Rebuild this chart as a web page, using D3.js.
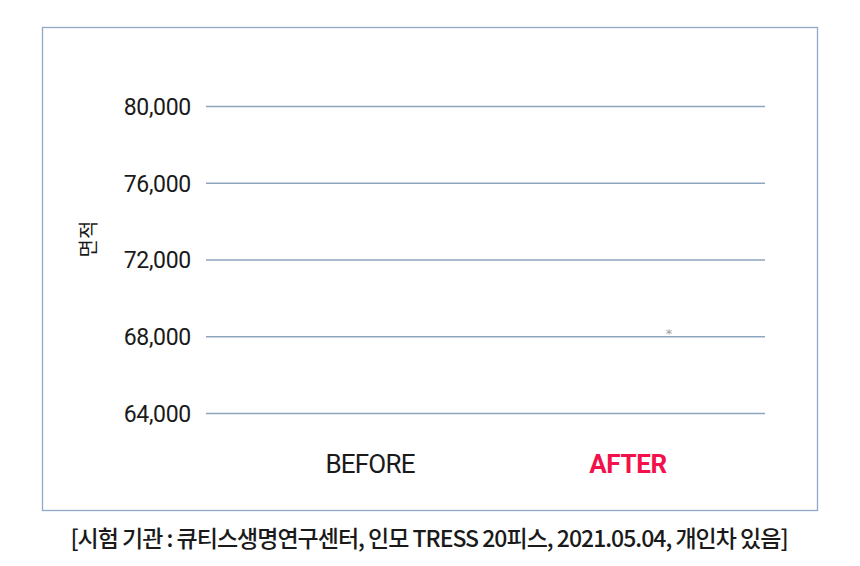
<!DOCTYPE html>
<html>
<head>
<meta charset="utf-8">
<script src="https://cdn.jsdelivr.net/npm/d3@7"></script>
<style>
  html, body { margin: 0; padding: 0; background: #fff; }
  svg { display: block; }
</style>
</head>
<body>
<svg id="chart"></svg>
<script>
// chart values
const categories = ['BEFORE', 'AFTER'];
const yTicks = [64000, 68000, 72000, 76000, 80000];
const yDomain = [62600, 81400];
const markers = [{ category: 'AFTER', value: 68200, text: '*' }];
const yTitle = '면적';
const footnote = '[시험 기관 : 큐티스생명연구센터, 인모 TRESS 20피스, 2021.05.04, 개인차 있음]';

const width = 860;
const height = 566;
const svg = d3.select('#chart').attr('width', width).attr('height', height);

// outer frame
svg.append('rect')
  .attr('x', 42.5).attr('y', 27.5)
  .attr('width', 775).attr('height', 483)
  .attr('fill', 'none')
  .attr('stroke', '#8fa9c6')
  .attr('stroke-width', 1.3);

const plot = { left: 206, right: 765 };

const y = d3.scaleLinear().domain(yDomain).range([
  // 80,000 lands at 106 and 64,000 at 413
  413 + (64000 - yDomain[0]) * (307 / 16000),
  106 - (yDomain[1] - 80000) * (307 / 16000)
]);

const x = d3.scaleBand().domain(categories).range([241, 757]);

// gridlines + tick labels
const yAxis = d3.axisLeft(y)
  .tickValues(yTicks)
  .tickSize(-(plot.right - plot.left))
  .tickPadding(15)
  .tickFormat(d3.format(','));

const gy = svg.append('g')
  .attr('transform', `translate(${plot.left},0)`)
  .call(yAxis);
gy.select('.domain').remove();
gy.selectAll('.tick line')
  .attr('stroke', '#8ea5c0')
  .attr('stroke-width', 1.3);
gy.selectAll('.tick text')
  .attr('fill', '#1a1a1a')
  .attr('dy', '0.36em')
  .style('font-family', 'Roboto, "Noto Sans", sans-serif')
  .style('font-size', '23px')
  .style('letter-spacing', '-0.3px');

// category labels
svg.append('g').selectAll('text')
  .data(categories)
  .join('text')
  .attr('x', d => x(d) + x.bandwidth() / 2)
  .attr('y', 473)
  .attr('text-anchor', 'middle')
  .attr('fill', d => d === 'AFTER' ? '#f2114b' : '#1a1a1a')
  .style('font-family', 'Roboto, "Noto Sans", sans-serif')
  .style('font-size', '26px')
  .style('font-weight', d => d === 'AFTER' ? 700 : 400)
  .style('letter-spacing', d => d === 'AFTER' ? '-0.4px' : '-0.8px')
  .text(d => d);

// significance marker
svg.selectAll('.marker')
  .data(markers)
  .join('text')
  .attr('class', 'marker')
  .attr('x', d => x(d.category) + x.bandwidth() / 2 + 41)
  .attr('y', d => y(d.value) + 6)
  .attr('text-anchor', 'middle')
  .attr('fill', '#9c9c9c')
  .style('font-family', '"DejaVu Sans", sans-serif')
  .style('font-size', '13px')
  .text(d => d.text);

// y axis title
svg.append('text')
  .attr('transform', 'translate(96,239) rotate(-90)')
  .attr('text-anchor', 'middle')
  .attr('fill', '#1a1a1a')
  .style('font-family', '"Noto Sans CJK KR", sans-serif')
  .style('font-size', '20px')
  .text(yTitle);

// footnote
svg.append('text')
  .attr('x', 429)
  .attr('y', 547)
  .attr('text-anchor', 'middle')
  .attr('fill', '#1a1a1a')
  .style('font-family', '"Noto Sans CJK KR", sans-serif')
  .style('font-size', '23px')
  .style('font-weight', 500)
  .style('letter-spacing', '-1px')
  .text(footnote);
</script>
</body>
</html>
